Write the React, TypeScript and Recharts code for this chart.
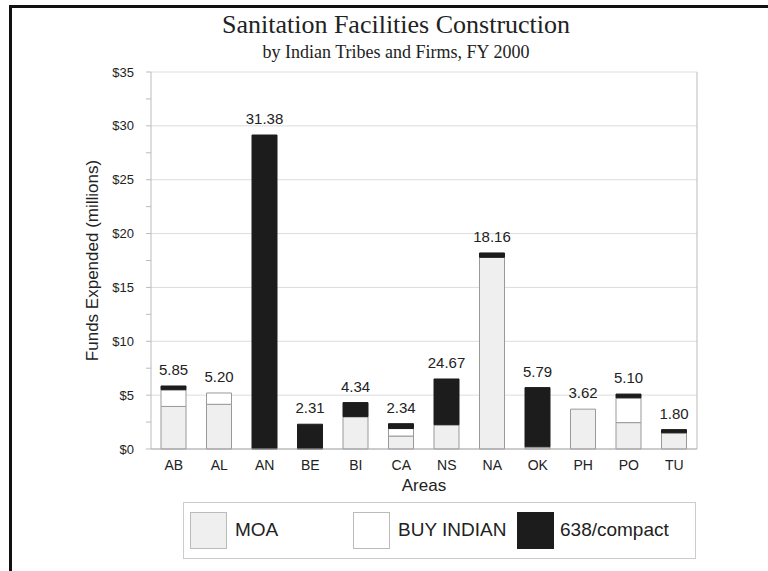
import React from "react";
import { Bar, BarChart, CartesianGrid, LabelList, XAxis, YAxis } from "recharts";

const areas = ["AB", "AL", "AN", "BE", "BI", "CA", "NS", "NA", "OK", "PH", "PO", "TU"];
const moa = [3.95, 4.15, 0, 0, 3.0, 1.2, 2.25, 17.8, 0.2, 3.7, 2.45, 1.5];
const buyIndian = [1.55, 1.05, 0, 0, 0, 0.7, 0, 0, 0, 0, 2.3, 0];
const compact = [0.35, 0, 29.15, 2.3, 1.31, 0.45, 4.25, 0.4, 5.5, 0, 0.35, 0.3];
const totals = ["5.85", "5.20", "31.38", "2.31", "4.34", "2.34", "24.67", "18.16", "5.79", "3.62", "5.10", "1.80"];
const yTicks = [0, 2.5, 5, 7.5, 10, 12.5, 15, 17.5, 20, 22.5, 25, 27.5, 30, 32.5, 35];
const gridValues = [0, 5, 10, 15, 20, 25, 30, 35];

const data = areas.map((area, i) => ({
  area,
  moa: moa[i],
  buy: buyIndian[i],
  compact: compact[i],
  // height of the stack, used only to place the printed total above it
  top: moa[i] + buyIndian[i] + compact[i],
  label: totals[i],
}));

const sans = "'Liberation Sans', Arial, sans-serif";
const serif = "'Liberation Serif', 'Times New Roman', serif";

const legendItems = [
  { name: "MOA", fill: "#efefef", stroke: "#bbb", left: 190, textLeft: 235 },
  { name: "BUY INDIAN", fill: "#ffffff", stroke: "#bbb", left: 353, textLeft: 398 },
  { name: "638/compact", fill: "#1c1c1c", stroke: "#1c1c1c", left: 517, textLeft: 560 },
];

export default function App() {
  return (
    <div style={{ position: "absolute", left: 0, top: 0, width: 768, height: 571, background: "#fff" }}>
      <div
        style={{
          position: "absolute",
          left: 9,
          top: 5,
          width: 768,
          height: 571,
          borderTop: "3px solid #111",
          borderLeft: "3px solid #111",
        }}
      />
      <div
        style={{
          position: "absolute",
          left: 0,
          width: 792,
          top: 10,
          textAlign: "center",
          fontFamily: serif,
          fontSize: 26,
          color: "#222",
        }}
      >
        Sanitation Facilities Construction
      </div>
      <div
        style={{
          position: "absolute",
          left: 0,
          width: 792,
          top: 42,
          textAlign: "center",
          fontFamily: serif,
          fontSize: 18,
          color: "#222",
        }}
      >
        by Indian Tribes and Firms, FY 2000
      </div>

      <div style={{ position: "absolute", left: 0, top: 0 }}>
        <BarChart
          width={768}
          height={571}
          data={data}
          barSize={25}
          margin={{ top: 72, right: 70, bottom: 80, left: 80 }}
        >
          <CartesianGrid vertical={false} horizontalValues={gridValues} stroke="#ddd" />
          <XAxis
            dataKey="area"
            height={42}
            tickLine={false}
            tickMargin={5}
            axisLine={{ stroke: "#aaa" }}
            tick={{ fill: "#222", fontSize: 14, fontFamily: sans }}
            label={{ value: "Areas", position: "insideBottom", offset: 0, fill: "#222", fontSize: 17, fontFamily: sans }}
          />
          <XAxis xAxisId="labels" dataKey="area" hide />
          <YAxis
            width={71}
            domain={[0, 35]}
            ticks={yTicks}
            interval={0}
            tickSize={5}
            tickMargin={12}
            tickLine={{ stroke: "#bbb" }}
            axisLine={{ stroke: "#bbb" }}
            tickFormatter={(v) => (v % 5 === 0 ? `$${v}` : "")}
            tick={{ fill: "#222", fontSize: 13, fontFamily: sans }}
            label={{
              value: "Funds Expended (millions)",
              angle: -90,
              position: "insideLeft",
              offset: 12,
              style: { textAnchor: "middle", fill: "#222", fontSize: 17, fontFamily: sans },
            }}
          />
          <YAxis
            yAxisId="right"
            orientation="right"
            width={1}
            domain={[0, 35]}
            tick={false}
            tickLine={false}
            axisLine={{ stroke: "#bbb" }}
          />
          <Bar dataKey="moa" stackId="a" fill="#efefef" stroke="#999" isAnimationActive={false} />
          <Bar dataKey="buy" stackId="a" fill="#ffffff" stroke="#999" isAnimationActive={false} />
          <Bar dataKey="compact" stackId="a" fill="#1c1c1c" stroke="#1c1c1c" isAnimationActive={false} />
          <Bar dataKey="top" xAxisId="labels" fill="none" stroke="none" isAnimationActive={false}>
            <LabelList dataKey="label" position="top" offset={11} fill="#222" fontSize={15} fontFamily={sans} />
          </Bar>
        </BarChart>
      </div>

      <div
        style={{
          position: "absolute",
          left: 183,
          top: 502,
          width: 513,
          height: 57,
          border: "1px solid #ccc",
          boxSizing: "border-box",
        }}
      />
      {legendItems.map((item) => (
        <React.Fragment key={item.name}>
          <div
            style={{
              position: "absolute",
              left: item.left,
              top: 512,
              width: 37,
              height: 37,
              background: item.fill,
              border: `1px solid ${item.stroke}`,
              boxSizing: "border-box",
            }}
          />
          <div
            style={{
              position: "absolute",
              left: item.textLeft,
              top: 519,
              fontFamily: sans,
              fontSize: 19,
              color: "#222",
              whiteSpace: "nowrap",
            }}
          >
            {item.name}
          </div>
        </React.Fragment>
      ))}
    </div>
  );
}
